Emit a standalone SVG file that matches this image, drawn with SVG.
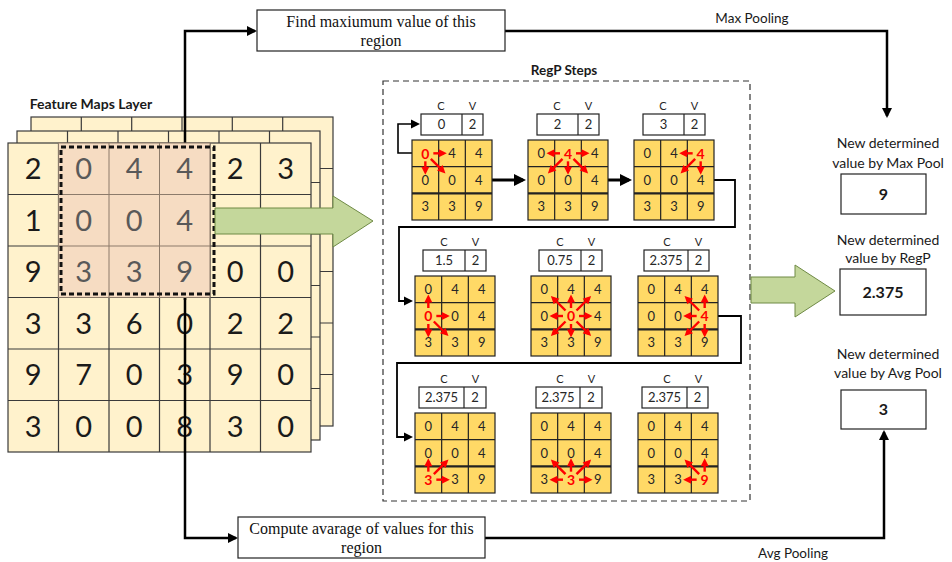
<svg xmlns="http://www.w3.org/2000/svg" xmlns:xlink="http://www.w3.org/1999/xlink" width="952" height="562" viewBox="0 0 952 562">
<style>
.fm{fill:#FFF2CC;stroke:#3a3a3a;stroke-width:1.2}
.fml{fill:none;stroke:#3a3a3a;stroke-width:1.2}
.big{font-family:Lato,"Liberation Sans",sans-serif;font-size:29px;fill:#1a1a1a;text-anchor:middle}
.bigh{font-family:Lato,"Liberation Sans",sans-serif;font-size:29px;fill:#595959;text-anchor:middle}
.cal{font-family:Lato,"Liberation Sans",sans-serif;fill:#1a1a1a}
.ser{font-family:"Liberation Serif","Times New Roman",serif;font-size:16px;fill:#111;text-anchor:middle}
.box{fill:#fff;stroke:#222;stroke-width:1.2}
.con{fill:none;stroke:#000;stroke-width:2.5}
.sg{fill:#FFD966;stroke:#222;stroke-width:1.2}
.sgl{fill:none;stroke:#222;stroke-width:1.2}
.sgt{fill:none;stroke:#222;stroke-width:2.4}
.sd{font-family:Lato,"Liberation Sans",sans-serif;font-size:13px;fill:#262626;text-anchor:middle}
.rd{font-family:Lato,"Liberation Sans",sans-serif;font-size:14px;font-weight:bold;fill:#FF0000;text-anchor:middle}
.cv{font-family:Lato,"Liberation Sans",sans-serif;font-size:11px;fill:#262626;text-anchor:middle}
.cvv{font-family:Lato,"Liberation Sans",sans-serif;font-size:13px;fill:#262626;text-anchor:middle}
.green{fill:#C4D79B;stroke:#6F8A45;stroke-width:1}
</style>
<defs>
<marker id="ab" markerUnits="userSpaceOnUse" markerWidth="12" markerHeight="12" refX="8" refY="5" orient="auto" overflow="visible"><path d="M0,0L10,5L0,10z" fill="#000"/></marker>
<marker id="abt" markerUnits="userSpaceOnUse" markerWidth="14" markerHeight="14" refX="9" refY="6" orient="auto" overflow="visible"><path d="M0,0L12,6L0,12z" fill="#000"/></marker>
<marker id="abs" markerUnits="userSpaceOnUse" markerWidth="10" markerHeight="10" refX="7" refY="4.5" orient="auto" overflow="visible"><path d="M0,0L9,4.5L0,9z" fill="#000"/></marker>
<marker id="mr" markerUnits="userSpaceOnUse" markerWidth="10" markerHeight="10" refX="5" refY="4" orient="auto" overflow="visible"><path d="M0,0L8,4L0,8z" fill="#FF0000"/></marker>
<line id="aR" x1="8" y1="0" x2="18.5" y2="0" stroke="#FF0000" stroke-width="2.4" marker-end="url(#mr)"/>
<line id="aL" x1="-8" y1="0" x2="-18.5" y2="0" stroke="#FF0000" stroke-width="2.4" marker-end="url(#mr)"/>
<line id="aU" x1="0" y1="-8" x2="0" y2="-18.5" stroke="#FF0000" stroke-width="2.4" marker-end="url(#mr)"/>
<line id="aD" x1="0" y1="8" x2="0" y2="18.5" stroke="#FF0000" stroke-width="2.4" marker-end="url(#mr)"/>
<line id="aDR" x1="5.5" y1="5.5" x2="18" y2="18" stroke="#FF0000" stroke-width="2.4" marker-end="url(#mr)"/>
<line id="aDL" x1="-5.5" y1="5.5" x2="-18" y2="18" stroke="#FF0000" stroke-width="2.4" marker-end="url(#mr)"/>
<line id="aUR" x1="5.5" y1="-5.5" x2="18" y2="-18" stroke="#FF0000" stroke-width="2.4" marker-end="url(#mr)"/>
<line id="aUL" x1="-5.5" y1="-5.5" x2="-18" y2="-18" stroke="#FF0000" stroke-width="2.4" marker-end="url(#mr)"/>
<g id="grid">
<rect class="sg" x="0" y="0" width="80" height="80"/>
<path class="sgl" d="M26.67,0V80M53.33,0V80M0,26.67H80"/>
<path class="sgt" d="M0,53.33H80"/>
</g>
</defs>

<!-- Feature map back layers -->
<g id="layer3">
<rect class="fm" x="31" y="117" width="302" height="309"/>
<path class="fml" d="M81.3,117V426M131.7,117V426M182,117V426M232.3,117V426M282.7,117V426M31,168.5H333M31,220H333M31,271.5H333M31,323H333M31,374.5H333"/>
</g>
<g id="layer2">
<rect class="fm" x="17" y="131" width="303" height="309"/>
<path class="fml" d="M67.5,131V440M118,131V440M168.5,131V440M219,131V440M269.5,131V440M17,182.5H320M17,234H320M17,285.5H320M17,337H320M17,388.5H320"/>
</g>
<g id="feature-map">
<rect class="fm" x="8" y="143" width="303" height="309"/>
<path class="fml" d="M58.5,143V452M109,143V452M159.5,143V452M210,143V452M260.5,143V452M8,194.5H311M8,246H311M8,297.5H311M8,349H311M8,400.5H311"/>
<text class="big" x="33.25" y="179">2</text><text class="big" x="235.25" y="179">2</text><text class="big" x="285.75" y="179">3</text>
<text class="big" x="33.25" y="231">1</text>
<text class="big" x="33.25" y="282">9</text><text class="big" x="235.25" y="282">0</text><text class="big" x="285.75" y="282">0</text>
<text class="big" x="33.25" y="334">3</text><text class="big" x="83.75" y="334">3</text><text class="big" x="134.25" y="334">6</text><text class="big" x="184.75" y="334">0</text><text class="big" x="235.25" y="334">2</text><text class="big" x="285.75" y="334">2</text>
<text class="big" x="33.25" y="385">9</text><text class="big" x="83.75" y="385">7</text><text class="big" x="134.25" y="385">0</text><text class="big" x="184.75" y="385">3</text><text class="big" x="235.25" y="385">9</text><text class="big" x="285.75" y="385">0</text>
<text class="big" x="33.25" y="437">3</text><text class="big" x="83.75" y="437">0</text><text class="big" x="134.25" y="437">0</text><text class="big" x="184.75" y="437">8</text><text class="big" x="235.25" y="437">3</text><text class="big" x="285.75" y="437">0</text>
</g>

<g id="connectors">
<path class="con" d="M185,300V31H255" marker-end="url(#ab)"/>
<path class="con" d="M185,290V538H236" marker-end="url(#ab)"/>
<path class="con" d="M505,31H887V116" marker-end="url(#ab)"/>
<path class="con" d="M485,538H884V432" marker-end="url(#ab)"/>
</g>

<g id="region">
<rect x="58.5" y="143" width="151.5" height="154.5" fill="#F6DCC2" stroke="#8c7b6b" stroke-width="1"/>
<path d="M109,143V297.5M159.5,143V297.5M58.5,194.5H210M58.5,246H210" fill="none" stroke="#8c7b6b" stroke-width="1"/>
<text class="bigh" x="83.75" y="179">0</text><text class="bigh" x="134.25" y="179">4</text><text class="bigh" x="184.75" y="179">4</text>
<text class="bigh" x="83.75" y="231">0</text><text class="bigh" x="134.25" y="231">0</text><text class="bigh" x="184.75" y="231">4</text>
<text class="bigh" x="83.75" y="282">3</text><text class="bigh" x="134.25" y="282">3</text><text class="bigh" x="184.75" y="282">9</text>
<rect x="61" y="147" width="153" height="147" fill="none" stroke="#111" stroke-width="3" stroke-dasharray="5 3"/>
</g>

<g id="arrow-in">
<polygon class="green" points="215,208 333,208 333,196 373,221 333,247 333,234 215,234"/>
</g>

<text class="cal" x="91" y="109" font-size="14" font-weight="bold" text-anchor="middle">Feature Maps Layer</text>

<g id="max-box">
<rect class="box" x="257" y="10" width="248" height="41"/>
<text class="ser" x="381" y="27">Find maxiumum value of this</text>
<text class="ser" x="381" y="46">region</text>
</g>
<g id="avg-box">
<rect class="box" x="238" y="517" width="247" height="41"/>
<text class="ser" x="361.5" y="534">Compute avarage of values for this</text>
<text class="ser" x="361.5" y="553">region</text>
</g>
<text class="cal" x="752" y="23" font-size="13.5" text-anchor="middle">Max Pooling</text>
<text class="cal" x="793" y="558" font-size="13.5" text-anchor="middle">Avg Pooling</text>

<g id="regp">
<rect x="383" y="81" width="367" height="420" fill="none" stroke="#333" stroke-width="1.2" stroke-dasharray="6 4"/>
<text class="cal" x="564" y="75" font-size="13.5" font-weight="bold" text-anchor="middle">RegP Steps</text>
</g>

<g id="regp-connectors">
<path d="M412,153H398V124H418" fill="none" stroke="#000" stroke-width="1.6" marker-end="url(#abs)"/>
<path d="M492,180H523" fill="none" stroke="#000" stroke-width="3" marker-end="url(#abt)"/>
<path d="M608,180H629" fill="none" stroke="#000" stroke-width="3" marker-end="url(#abt)"/>
<path d="M714,180H735V227H399V301H411" fill="none" stroke="#000" stroke-width="1.8" marker-end="url(#abs)"/>
<path d="M717,316H741V363H397V437H411" fill="none" stroke="#000" stroke-width="1.8" marker-end="url(#abs)"/>
</g>

<!-- Step 1 -->
<g id="step1" transform="translate(412,140)">
<use xlink:href="#grid" href="#grid"/>
<text class="cv" x="29" y="-30">C</text><text class="cv" x="60.5" y="-30">V</text>
<rect class="box" x="9" y="-26" width="62" height="21"/><path d="M50,-26V-5" stroke="#222" stroke-width="1.2"/>
<text class="cvv" x="29.5" y="-11">0</text><text class="cvv" x="60.5" y="-11">2</text>
<text class="rd" x="13.33" y="18.5">0</text><text class="sd" x="40" y="17.8">4</text><text class="sd" x="66.67" y="17.8">4</text>
<text class="sd" x="13.33" y="44.5">0</text><text class="sd" x="40" y="44.5">0</text><text class="sd" x="66.67" y="44.5">4</text>
<text class="sd" x="13.33" y="71.2">3</text><text class="sd" x="40" y="71.2">3</text><text class="sd" x="66.67" y="71.2">9</text>
<g transform="translate(13.33,13.33)"><use href="#aR"/><use href="#aD"/><use href="#aDR"/></g>
</g>
<!-- Step 2 -->
<g id="step2" transform="translate(528,140)">
<use href="#grid"/>
<text class="cv" x="29" y="-30">C</text><text class="cv" x="60.5" y="-30">V</text>
<rect class="box" x="9" y="-26" width="62" height="21"/><path d="M50,-26V-5" stroke="#222" stroke-width="1.2"/>
<text class="cvv" x="29.5" y="-11">2</text><text class="cvv" x="60.5" y="-11">2</text>
<text class="sd" x="13.33" y="17.8">0</text><text class="rd" x="40" y="18.5">4</text><text class="sd" x="66.67" y="17.8">4</text>
<text class="sd" x="13.33" y="44.5">0</text><text class="sd" x="40" y="44.5">0</text><text class="sd" x="66.67" y="44.5">4</text>
<text class="sd" x="13.33" y="71.2">3</text><text class="sd" x="40" y="71.2">3</text><text class="sd" x="66.67" y="71.2">9</text>
<g transform="translate(40,13.33)"><use href="#aL"/><use href="#aR"/><use href="#aDL"/><use href="#aD"/><use href="#aDR"/></g>
</g>
<!-- Step 3 -->
<g id="step3" transform="translate(634,140)">
<use href="#grid"/>
<text class="cv" x="29" y="-30">C</text><text class="cv" x="60.5" y="-30">V</text>
<rect class="box" x="9" y="-26" width="62" height="21"/><path d="M50,-26V-5" stroke="#222" stroke-width="1.2"/>
<text class="cvv" x="29.5" y="-11">3</text><text class="cvv" x="60.5" y="-11">2</text>
<text class="sd" x="13.33" y="17.8">0</text><text class="sd" x="40" y="17.8">4</text><text class="rd" x="66.67" y="18.5">4</text>
<text class="sd" x="13.33" y="44.5">0</text><text class="sd" x="40" y="44.5">0</text><text class="sd" x="66.67" y="44.5">4</text>
<text class="sd" x="13.33" y="71.2">3</text><text class="sd" x="40" y="71.2">3</text><text class="sd" x="66.67" y="71.2">9</text>
<g transform="translate(66.67,13.33)"><use href="#aL"/><use href="#aDL"/><use href="#aD"/></g>
</g>
<!-- Step 4 -->
<g id="step4" transform="translate(415,276)">
<use href="#grid"/>
<text class="cv" x="29" y="-30">C</text><text class="cv" x="60.5" y="-30">V</text>
<rect class="box" x="8" y="-26" width="63" height="21"/><path d="M50,-26V-5" stroke="#222" stroke-width="1.2"/>
<text class="cvv" x="29" y="-11">1.5</text><text class="cvv" x="60.5" y="-11">2</text>
<text class="sd" x="13.33" y="17.8">0</text><text class="sd" x="40" y="17.8">4</text><text class="sd" x="66.67" y="17.8">4</text>
<text class="rd" x="13.33" y="45.2">0</text><text class="sd" x="40" y="44.5">0</text><text class="sd" x="66.67" y="44.5">4</text>
<text class="sd" x="13.33" y="71.2">3</text><text class="sd" x="40" y="71.2">3</text><text class="sd" x="66.67" y="71.2">9</text>
<g transform="translate(13.33,40)"><use href="#aU"/><use href="#aR"/><use href="#aD"/><use href="#aDR"/></g>
</g>
<!-- Step 5 -->
<g id="step5" transform="translate(531,276)">
<use href="#grid"/>
<text class="cv" x="29" y="-30">C</text><text class="cv" x="60.5" y="-30">V</text>
<rect class="box" x="8" y="-26" width="63" height="21"/><path d="M50,-26V-5" stroke="#222" stroke-width="1.2"/>
<text class="cvv" x="29" y="-11">0.75</text><text class="cvv" x="60.5" y="-11">2</text>
<text class="sd" x="13.33" y="17.8">0</text><text class="sd" x="40" y="17.8">4</text><text class="sd" x="66.67" y="17.8">4</text>
<text class="sd" x="13.33" y="44.5">0</text><text class="rd" x="40" y="45.2">0</text><text class="sd" x="66.67" y="44.5">4</text>
<text class="sd" x="13.33" y="71.2">3</text><text class="sd" x="40" y="71.2">3</text><text class="sd" x="66.67" y="71.2">9</text>
<g transform="translate(40,40)"><use href="#aU"/><use href="#aD"/><use href="#aL"/><use href="#aR"/><use href="#aUL"/><use href="#aUR"/><use href="#aDL"/><use href="#aDR"/></g>
</g>
<!-- Step 6 -->
<g id="step6" transform="translate(638,276)">
<use href="#grid"/>
<text class="cv" x="29" y="-30">C</text><text class="cv" x="60.5" y="-30">V</text>
<rect class="box" x="6" y="-26" width="65" height="21"/><path d="M50,-26V-5" stroke="#222" stroke-width="1.2"/>
<text class="cvv" x="28" y="-11">2.375</text><text class="cvv" x="60.5" y="-11">2</text>
<text class="sd" x="13.33" y="17.8">0</text><text class="sd" x="40" y="17.8">4</text><text class="sd" x="66.67" y="17.8">4</text>
<text class="sd" x="13.33" y="44.5">0</text><text class="sd" x="40" y="44.5">0</text><text class="rd" x="66.67" y="45.2">4</text>
<text class="sd" x="13.33" y="71.2">3</text><text class="sd" x="40" y="71.2">3</text><text class="sd" x="66.67" y="71.2">9</text>
<g transform="translate(66.67,40)"><use href="#aUL"/><use href="#aU"/><use href="#aL"/><use href="#aDL"/><use href="#aD"/></g>
</g>
<!-- Step 7 -->
<g id="step7" transform="translate(415,413)">
<use href="#grid"/>
<text class="cv" x="29" y="-30">C</text><text class="cv" x="60.5" y="-30">V</text>
<rect class="box" x="4" y="-26" width="67" height="21"/><path d="M49,-26V-5" stroke="#222" stroke-width="1.2"/>
<text class="cvv" x="26.5" y="-11">2.375</text><text class="cvv" x="60" y="-11">2</text>
<text class="sd" x="13.33" y="17.8">0</text><text class="sd" x="40" y="17.8">4</text><text class="sd" x="66.67" y="17.8">4</text>
<text class="sd" x="13.33" y="44.5">0</text><text class="sd" x="40" y="44.5">0</text><text class="sd" x="66.67" y="44.5">4</text>
<text class="rd" x="13.33" y="71.9">3</text><text class="sd" x="40" y="71.2">3</text><text class="sd" x="66.67" y="71.2">9</text>
<g transform="translate(13.33,66.67)"><use href="#aU"/><use href="#aUR"/><use href="#aR"/></g>
</g>
<!-- Step 8 -->
<g id="step8" transform="translate(531,413)">
<use href="#grid"/>
<text class="cv" x="29" y="-30">C</text><text class="cv" x="60.5" y="-30">V</text>
<rect class="box" x="5" y="-26" width="66" height="21"/><path d="M49,-26V-5" stroke="#222" stroke-width="1.2"/>
<text class="cvv" x="27" y="-11">2.375</text><text class="cvv" x="60" y="-11">2</text>
<text class="sd" x="13.33" y="17.8">0</text><text class="sd" x="40" y="17.8">4</text><text class="sd" x="66.67" y="17.8">4</text>
<text class="sd" x="13.33" y="44.5">0</text><text class="sd" x="40" y="44.5">0</text><text class="sd" x="66.67" y="44.5">4</text>
<text class="sd" x="13.33" y="71.2">3</text><text class="rd" x="40" y="71.9">3</text><text class="sd" x="66.67" y="71.2">9</text>
<g transform="translate(40,66.67)"><use href="#aUL"/><use href="#aU"/><use href="#aUR"/><use href="#aL"/><use href="#aR"/></g>
</g>
<!-- Step 9 -->
<g id="step9" transform="translate(638,413)">
<use href="#grid"/>
<text class="cv" x="29" y="-30">C</text><text class="cv" x="60.5" y="-30">V</text>
<rect class="box" x="4" y="-26" width="66" height="21"/><path d="M49,-26V-5" stroke="#222" stroke-width="1.2"/>
<text class="cvv" x="26.5" y="-11">2.375</text><text class="cvv" x="59.5" y="-11">2</text>
<text class="sd" x="13.33" y="17.8">0</text><text class="sd" x="40" y="17.8">4</text><text class="sd" x="66.67" y="17.8">4</text>
<text class="sd" x="13.33" y="44.5">0</text><text class="sd" x="40" y="44.5">0</text><text class="sd" x="66.67" y="44.5">4</text>
<text class="sd" x="13.33" y="71.2">3</text><text class="sd" x="40" y="71.2">3</text><text class="rd" x="66.67" y="71.9">9</text>
<g transform="translate(66.67,66.67)"><use href="#aUL"/><use href="#aU"/><use href="#aL"/></g>
</g>

<g id="arrow-out">
<polygon class="green" points="751,277 795,277 795,265 835,291 795,317 795,303 751,303"/>
</g>

<g id="max-result">
<text class="cal" x="888" y="148" font-size="14" text-anchor="middle">New determined</text>
<text class="cal" x="888" y="168" font-size="14" text-anchor="middle">value by Max Pool</text>
<rect class="box" x="841" y="174" width="85" height="40"/>
<text class="cal" x="883.5" y="200" font-size="16" font-weight="bold" text-anchor="middle">9</text>
</g>
<g id="regp-result">
<text class="cal" x="888" y="245" font-size="14" text-anchor="middle">New determined</text>
<text class="cal" x="888" y="263" font-size="14" text-anchor="middle">value by RegP</text>
<rect class="box" x="840" y="269" width="86" height="46"/>
<text class="cal" x="883" y="298" font-size="16" font-weight="bold" text-anchor="middle">2.375</text>
</g>
<g id="avg-result">
<text class="cal" x="888" y="359" font-size="14" text-anchor="middle">New determined</text>
<text class="cal" x="888" y="378" font-size="14" text-anchor="middle">value by Avg Pool</text>
<rect class="box" x="841" y="390" width="85" height="39"/>
<text class="cal" x="883.5" y="415" font-size="16" font-weight="bold" text-anchor="middle">3</text>
</g>
</svg>
